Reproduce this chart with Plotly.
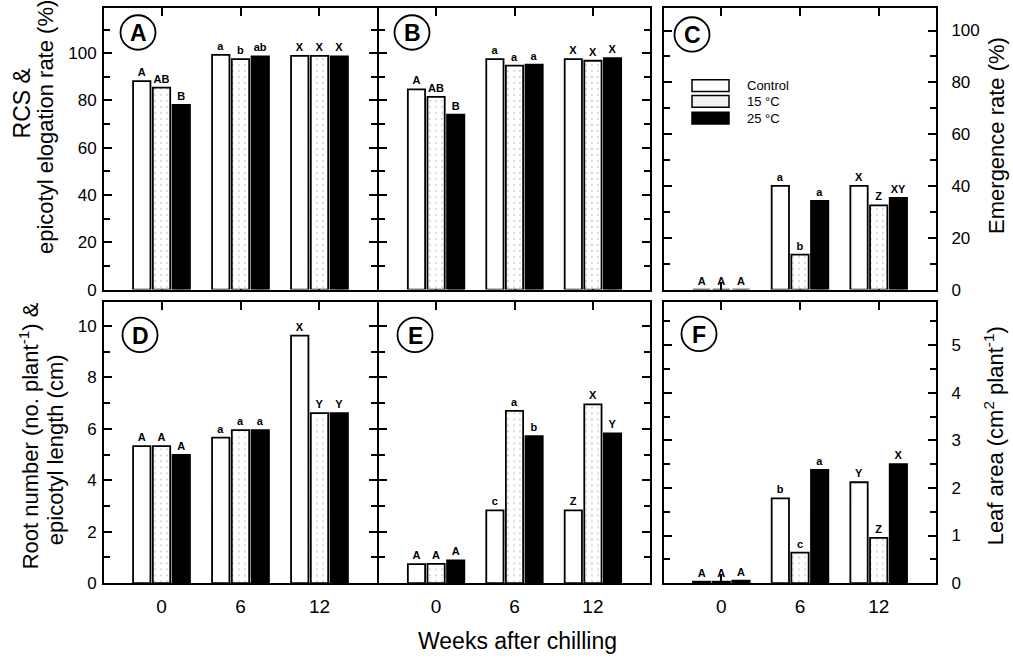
import plotly.graph_objects as go

W, H = 1013, 666
FONT = "Liberation Sans, Arial, Helvetica, sans-serif"

weeks = ["0", "6", "12"]
treatments = ["Control", "15 °C", "25 °C"]

# (A) RCS & epicotyl elongation rate (%)
a_control = [88.2, 99.3, 98.9]
a_15c = [85.4, 97.5, 98.9]
a_25c = [78.1, 98.6, 98.6]
a_sig_control = ["A", "a", "X"]
a_sig_15c = ["AB", "b", "X"]
a_sig_25c = ["B", "ab", "X"]

# (B) RCS & epicotyl elongation rate (%)
b_control = [84.7, 97.5, 97.5]
b_15c = [81.5, 94.7, 96.8]
b_25c = [74.0, 95.1, 97.9]
b_sig_control = ["A", "a", "X"]
b_sig_15c = ["AB", "a", "X"]
b_sig_25c = ["B", "a", "X"]

# (C) Emergence rate (%)
c_control = [0, 40.0, 40.0]
c_15c = [0, 13.5, 32.5]
c_25c = [0, 34.2, 35.4]
c_sig_control = ["A", "a", "X"]
c_sig_15c = ["A", "b", "Z"]
c_sig_25c = ["A", "a", "XY"]

# (D) Root number / epicotyl length
d_control = [5.33, 5.66, 9.63]
d_15c = [5.33, 5.95, 6.61]
d_25c = [4.99, 5.95, 6.61]
d_sig_control = ["A", "a", "X"]
d_sig_15c = ["A", "a", "Y"]
d_sig_25c = ["A", "a", "Y"]

# (E) Root number / epicotyl length
e_control = [0.74, 2.83, 2.83]
e_15c = [0.75, 6.70, 6.95]
e_25c = [0.88, 5.72, 5.82]
e_sig_control = ["A", "c", "Z"]
e_sig_15c = ["A", "a", "X"]
e_sig_25c = ["A", "b", "Y"]

# (F) Leaf area (cm2 plant-1)
f_control = [0.03, 1.78, 2.12]
f_15c = [0.03, 0.64, 0.95]
f_25c = [0.05, 2.38, 2.50]
f_sig_control = ["A", "b", "Y"]
f_sig_15c = ["A", "c", "Z"]
f_sig_25c = ["A", "a", "X"]

panel_letters = ["A", "B", "C", "D", "E", "F"]

panels = [
    ([a_control, a_15c, a_25c], [a_sig_control, a_sig_15c, a_sig_25c]),
    ([b_control, b_15c, b_25c], [b_sig_control, b_sig_15c, b_sig_25c]),
    ([c_control, c_15c, c_25c], [c_sig_control, c_sig_15c, c_sig_25c]),
    ([d_control, d_15c, d_25c], [d_sig_control, d_sig_15c, d_sig_25c]),
    ([e_control, e_15c, e_25c], [e_sig_control, e_sig_15c, e_sig_25c]),
    ([f_control, f_15c, f_25c], [f_sig_control, f_sig_15c, f_sig_25c]),
]

OUTLINE = dict(color="black", width=1.8)
bar_styles = [
    dict(color="white", line=OUTLINE),
    dict(color="white", line=OUTLINE,
         pattern=dict(shape=".", fgcolor="#9a9a9a", bgcolor="white",
                      size=6, solidity=0.08)),
    dict(color="black", line=OUTLINE),
]


def px_x(px):
    return px / W


def px_y(py):
    return 1 - py / H


# panel frames in pixels: columns (left, right), rows (top, bottom)
cols = [(104, 377), (379, 650), (664, 936)]
rows = [(8, 294), (307, 592)]

fig = go.Figure()
x_pos = [0, 1, 2]

for i, (values, sigs) in enumerate(panels):
    ax = "" if i == 0 else str(i + 1)
    for k, name in enumerate(treatments):
        fig.add_trace(go.Bar(
            x=x_pos, y=values[k], name=name,
            offsetgroup=str(k),
            marker=bar_styles[k],
            text=sigs[k], textposition="outside",
            textfont=dict(family=FONT, size=11, color="black", weight="bold"),
            constraintext="none", cliponaxis=False,
            xaxis="x" + ax, yaxis="y" + ax, showlegend=False,
        ))

y_ranges = [
    [0, 286 / 2.4], [0, 286 / 2.4], [0, 286 / 2.63],
    [0, 285 / 26.1], [0, 285 / 26.1], [0, 285 / 48.3],
]
y_dticks = [(20, 10), (20, 10), (20, 10), (2, 1), (2, 1), (1, 0.5)]
y_labels = ["left", None, "right", "left", None, "right"]

layout = dict(
    width=W, height=H,
    margin=dict(l=0, r=0, t=0, b=0),
    paper_bgcolor="white", plot_bgcolor="white",
    barmode="group", bargap=0.25, bargroupgap=0.12,
    font=dict(family=FONT, color="black"),
    showlegend=False,
)

for i in range(6):
    r, c = divmod(i, 3)
    ax = "" if i == 0 else str(i + 1)
    left, right = cols[c]
    top, bottom = rows[r]
    layout["xaxis" + ax] = dict(
        domain=[px_x(left), px_x(right)],
        anchor="y" + ax,
        range=[-0.728, 2.728],
        tickvals=x_pos, ticktext=weeks,
        showticklabels=(r == 1),
        tickfont=dict(size=19),
        ticks="inside", ticklen=8, tickwidth=1.5, tickcolor="black",
        showline=True, linewidth=2, linecolor="black", mirror="ticks",
        showgrid=False, zeroline=False, layer="below traces",
        ticklabelstandoff=5,
    )
    major, minor = y_dticks[i]
    side = y_labels[i]
    layout["yaxis" + ax] = dict(
        domain=[px_y(bottom), px_y(top)],
        anchor="x" + ax,
        range=y_ranges[i],
        dtick=major, tick0=0,
        showticklabels=side is not None,
        side=side if side else "left",
        tickfont=dict(size=17),
        ticks="inside", ticklen=8, tickwidth=1.5, tickcolor="black",
        minor=dict(dtick=minor, tick0=0, ticks="inside", ticklen=6,
                   tickwidth=1.5, tickcolor="black"),
        showline=True, linewidth=2, linecolor="black", mirror="ticks",
        showgrid=False, zeroline=False,
        ticklabelstandoff=(10 if side == "right" else 2),
    )

fig.update_layout(**layout)

annotations = []
shapes = []

# circled panel letters
circle_centres = [(138, 33), (412, 33), (692, 35), (140, 340), (415, 340), (699, 339)]
R = 17.5
for letter, (cx, cy) in zip(panel_letters, circle_centres):
    shapes.append(dict(
        type="circle", xref="paper", yref="paper",
        x0=px_x(cx - R), x1=px_x(cx + R), y0=px_y(cy + R), y1=px_y(cy - R),
        line=dict(color="black", width=1.8), fillcolor="white",
    ))
    annotations.append(dict(
        x=px_x(cx), y=px_y(cy + 1), xref="paper", yref="paper",
        text="<b>%s</b>" % letter, showarrow=False,
        font=dict(size=23, family=FONT), xanchor="center", yanchor="middle",
    ))

# legend inside panel C
legend_rows = [(87, "white"), (103, "#f1f1f1"), (120, "black")]
for (cy, fill), name in zip(legend_rows, treatments):
    shapes.append(dict(
        type="rect", xref="paper", yref="paper",
        x0=px_x(692), x1=px_x(729), y0=px_y(cy + 6), y1=px_y(cy - 6),
        line=dict(color="black", width=1.5), fillcolor=fill,
    ))
    annotations.append(dict(
        x=px_x(745), y=px_y(cy), xref="paper", yref="paper",
        text=name, showarrow=False, font=dict(size=13, family=FONT),
        xanchor="left", yanchor="middle",
    ))


# axis titles
def vtitle(text, cx, cy, size=23):
    annotations.append(dict(
        x=px_x(cx), y=px_y(cy), xref="paper", yref="paper",
        text=text, showarrow=False, textangle=-90,
        font=dict(size=size, family=FONT),
        xanchor="center", yanchor="middle",
    ))


vtitle("RCS &amp;", 22, 105)
vtitle("epicotyl elogation rate (%)", 45, 129, 22)
vtitle("Root number (no. plant<sup>-1</sup>) &amp;", 29, 443, 22)
vtitle("epicotyl length (cm)", 55, 457, 22)
vtitle("Emergence rate (%)", 997, 138, 22)
vtitle("Leaf area (cm<sup>2</sup> plant<sup>-1</sup>)", 994, 443, 22)

annotations.append(dict(
    x=px_x(517), y=px_y(651), xref="paper", yref="paper",
    text="Weeks after chilling", showarrow=False,
    font=dict(size=23, family=FONT), xanchor="center", yanchor="middle",
))

fig.update_layout(annotations=annotations, shapes=shapes)

fig.write_html("out.html")
